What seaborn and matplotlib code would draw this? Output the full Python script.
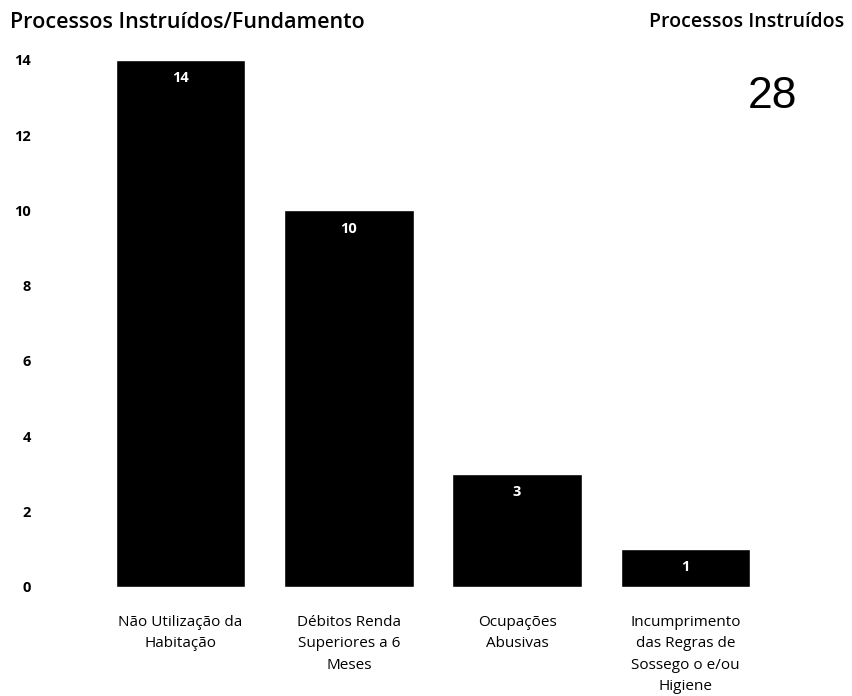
import matplotlib
matplotlib.use("Agg")
import matplotlib.pyplot as plt
import seaborn as sns
import pandas as pd

categorias = [
    "Não Utilização da\nHabitação",
    "Débitos Renda\nSuperiores a 6\nMeses",
    "Ocupações\nAbusivas",
    "Incumprimento\ndas Regras de\nSossego o e/ou\nHigiene",
]
processos = [14, 10, 3, 1]
total = 28

df = pd.DataFrame({"Fundamento": categorias, "Processos": processos})

sns.set_style("white")
plt.rcParams["font.family"] = ["Open Sans", "DejaVu Sans"]
plt.rcParams["text.color"] = "black"
plt.rcParams["xtick.color"] = "black"
plt.rcParams["ytick.color"] = "black"

fig = plt.figure(figsize=(8.53, 6.96), dpi=100)
ax = fig.add_axes([0.113, 0.157, 0.789, 0.757])

sns.barplot(data=df, x="Fundamento", y="Processos", color="black",
            width=0.77, saturation=1, ax=ax)

for i, v in enumerate(processos):
    ax.text(i, v - 0.3, str(v), ha="center", va="top", color="white",
            fontsize=10.5, fontweight="bold")

ax.set_ylim(0, 14)
ax.set_yticks(range(0, 15, 2))
ax.set_xlabel("")
ax.set_ylabel("")
for s in ax.spines.values():
    s.set_visible(False)
ax.tick_params(axis="y", length=0, pad=47, labelsize=10.5)
ax.tick_params(axis="x", length=0, pad=20, labelsize=11)
for t in ax.get_yticklabels():
    t.set_fontweight("bold")
for t in ax.get_xticklabels():
    t.set_linespacing(1.6)

fig.text(0.012, 0.968, "Processos Instruídos/Fundamento", fontsize=15.5,
         ha="left", va="center", fontweight="semibold")
fig.text(0.99, 0.968, "Processos Instruídos", fontsize=14,
         ha="right", va="center", fontweight="semibold")
fig.text(0.905, 0.861, str(total), fontsize=32, ha="center", va="center",
         family=["Liberation Sans", "DejaVu Sans"])

fig.savefig("out.png", dpi=100)
